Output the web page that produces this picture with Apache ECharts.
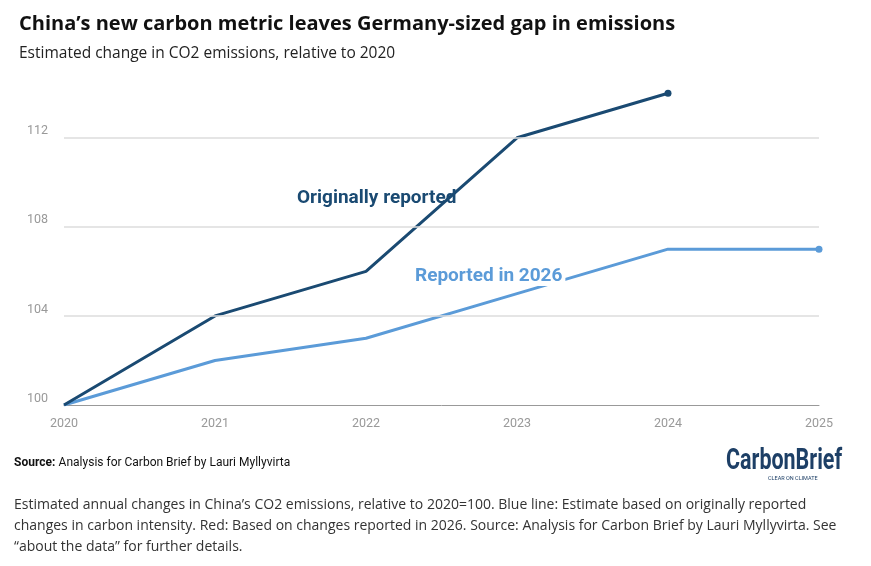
<!DOCTYPE html>
<html><head><meta charset="utf-8">
<script src="https://cdn.jsdelivr.net/npm/echarts@6/dist/echarts.min.js"></script>
<style>html,body{margin:0;padding:0;background:#fff}#c{width:871px;height:566px}</style>
</head><body><div id="c"></div>
<script>
const years = ['2020','2021','2022','2023','2024','2025'];
const originally = [100,104,106,112,114,null];
const reported2026 = [100,102,103,105,107,107];
const yTicks = [100,104,108,112];
const dark = '#1a4a72', light = '#5b9bd8';
const chart = echarts.init(document.getElementById('c'));
function endPoint(arr){const i=arr.reduce((a,v,k)=>v!=null?k:a,0);return arr.map((v,k)=>k===i?v:null);}
chart.setOption({
  animation:false,
  textStyle:{fontFamily:'Roboto'},
  title:[
    {text:'China’s new carbon metric leaves Germany-sized gap in emissions',left:14,top:9,
     textStyle:{fontFamily:'Open Sans',fontSize:20,fontWeight:'bold',color:'#111'}},
    {text:'Estimated change in CO2 emissions, relative to 2020',left:14,top:41,
     textStyle:{fontFamily:'Open Sans',fontSize:15.5,fontWeight:'normal',color:'#222'}}
  ],
  grid:{left:64,right:52,top:71,bottom:161},
  xAxis:{type:'category',data:years,boundaryGap:false,
    axisLine:{lineStyle:{color:'#999'}},axisTick:{show:false},
    axisLabel:{color:'#999',fontSize:12.5,margin:12}},
  yAxis:{type:'value',min:100,max:115,interval:4,
    axisLabel:{color:'#999',fontSize:12.5,formatter:v=>yTicks.includes(v)?v:'',margin:16,verticalAlign:'bottom'},
    splitLine:{show:false},axisLine:{show:false},axisTick:{show:false}},
  series:[
    {type:'line',data:reported2026,symbol:'none',lineStyle:{color:light,width:3},z:2,
     markLine:{silent:true,symbol:'none',label:{show:false},lineStyle:{color:'#ddd',width:1.5,type:'solid'},
       data:yTicks.filter(v=>v>100).map(v=>({yAxis:v}))}},
    {type:'line',data:endPoint(reported2026),symbol:'circle',symbolSize:7,itemStyle:{color:light},lineStyle:{width:0},z:3},
    {type:'line',data:originally,symbol:'none',lineStyle:{color:dark,width:3},z:4},
    {type:'line',data:endPoint(originally),symbol:'circle',symbolSize:7,itemStyle:{color:dark},lineStyle:{width:0},z:5}
  ],
  graphic:[
    {type:'text',left:297,top:189,z:10,style:{text:'Originally reported',fill:dark,font:'bold 19px Roboto'}},
    {type:'text',left:412,top:267,z:10,style:{text:'Reported in 2026',fill:light,font:'bold 19px Roboto',backgroundColor:'#fff',padding:[0,3]}},
    {type:'text',left:14,top:457,style:{rich:{b:{font:'bold 12px Roboto',fill:'#111'},n:{font:'12px Roboto',fill:'#111'}},text:'{b|Source:} {n|Analysis for Carbon Brief by Lauri Myllyvirta}'}},
    {type:'text',x:726,y:447,scaleX:0.74,style:{text:'CarbonBrief',fill:'#1d3f66',font:'bold 29px Roboto'}},
    {type:'text',left:768,top:476,style:{text:'CLEAR ON CLIMATE',fill:'#1d3f66',font:'5.5px Roboto'}},
    {type:'text',left:14,top:495,style:{text:'Estimated annual changes in China’s CO2 emissions, relative to 2020=100. Blue line: Estimate based on originally reported\nchanges in carbon intensity. Red: Based on changes reported in 2026. Source: Analysis for Carbon Brief by Lauri Myllyvirta. See\n“about the data” for further details.',fill:'#333',font:'14px "Open Sans"',lineHeight:21}}
  ]
});
</script></body></html>
